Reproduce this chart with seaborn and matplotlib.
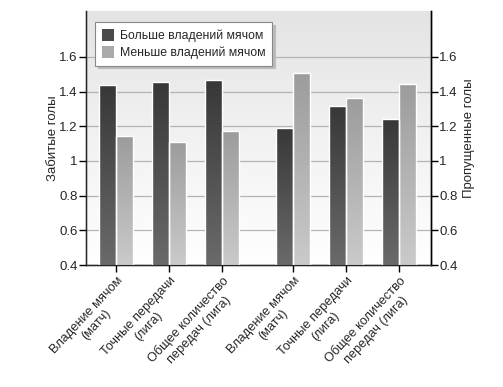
import numpy as np
import pandas as pd
import matplotlib
matplotlib.use("Agg")
import matplotlib.pyplot as plt
import seaborn as sns
from matplotlib.patches import Patch
from matplotlib.colors import LinearSegmentedColormap

categories = ["Владение мячом\n(матч)", "Точные передачи\n(лига)", "Общее количество\nпередач (лига)",
              "Владение мячом\n(матч)", "Точные передачи\n(лига)", "Общее количество\nпередач (лига)"]
positions = [0, 1, 2, 3.34, 4.34, 5.34]
more_possession = [1.436, 1.455, 1.467, 1.189, 1.316, 1.241]
less_possession = [1.143, 1.112, 1.172, 1.510, 1.363, 1.444]
series_names = ["Больше владений мячом", "Меньше владений мячом"]
yticks = [0.4, 0.6, 0.8, 1.0, 1.2, 1.4, 1.6]
yticklabels = ["0.4", "0.6", "0.8", "1", "1.2", "1.4", "1.6"]

df = pd.DataFrame({
    "pos": positions * 2,
    "value": more_possession + less_possession,
    "series": [series_names[0]] * 6 + [series_names[1]] * 6,
})

sns.set_style("white")
plt.rcParams['font.family'] = ['Liberation Sans', 'DejaVu Sans']
plt.rcParams['font.size'] = 9

fig = plt.figure(figsize=(5.03, 3.87), dpi=100)
ax = fig.add_axes([86/503, 1 - 265/387, (431-86)/503, (265-11)/387])

sns.barplot(data=df, x="pos", y="value", hue="series", native_scale=True,
            palette=["#4a4a4a", "#b0b0b0"], width=0.64, gap=0,
            edgecolor="white", linewidth=1.0, ax=ax, legend=False, zorder=3)

ymin, ymax = 0.4, 1.865

# background gradient
bg = np.linspace(0, 1, 256).reshape(-1, 1)
bg_cmap = LinearSegmentedColormap.from_list("bg", ["#ffffff", "#e4e4e4"])
ax.imshow(bg, aspect="auto", cmap=bg_cmap, extent=[0, 1, 0, 1], origin="lower",
          transform=ax.transAxes, zorder=0)

# gradient bars
dark_cmap = LinearSegmentedColormap.from_list("d", ["#6a6a6a", "#383838"])
light_cmap = LinearSegmentedColormap.from_list("l", ["#cacaca", "#9c9c9c"])
for i, p in enumerate(list(ax.patches)):
    x0, y0 = p.get_x(), p.get_y()
    w, h = p.get_width(), p.get_height()
    cmap = dark_cmap if i < 6 else light_cmap
    grad = np.linspace(0, 1, 128).reshape(-1, 1)
    im = ax.imshow(grad, aspect="auto", cmap=cmap, origin="lower",
                   extent=[x0, x0 + w, ymin, y0 + h], zorder=3.5)
    im.set_clip_path(p)
    p.set_facecolor("none")
    p.set_zorder(4)

ax.set_ylim(ymin, ymax)
ax.set_xlim(-0.57, 5.94)

ax.set_yticks(yticks)
ax.set_yticklabels(yticklabels)
for y in yticks:
    ax.axhline(y, color="#b4b4b4", lw=0.9, zorder=1)

ax.set_xticks(positions)
ax.set_xticklabels(categories, rotation=47, ha="right", rotation_mode="anchor",
                   multialignment="center", fontsize=9.2)
ax.tick_params(axis="x", which="both", direction="out", length=5, width=1, color="black", bottom=True, pad=2)
ax.tick_params(axis="y", direction="out", length=5, width=1, color="black", left=True, pad=1, labelsize=9.5)
ax.set_xlabel("")
ax.set_ylabel("Забитые голы", fontsize=9.5, labelpad=0)

ax.spines["top"].set_visible(False)
for s in ["left", "bottom", "right"]:
    ax.spines[s].set_visible(True)
    ax.spines[s].set_color("black")
    ax.spines[s].set_linewidth(1)

ax2 = ax.twinx()
ax2.set_ylim(ymin, ymax)
ax2.set_yticks(yticks)
ax2.set_yticklabels(yticklabels)
ax2.tick_params(axis="y", direction="out", length=5, width=1, color="black", right=True, pad=1, labelsize=9.5)
ax2.set_ylabel("Пропущенные голы", fontsize=9.5, labelpad=4)
ax2.spines["top"].set_visible(False)
ax2.spines["right"].set_color("black")
ax2.spines["right"].set_linewidth(1)
ax2.grid(False)

handles = [Patch(facecolor="#4a4a4a", edgecolor="none"), Patch(facecolor="#aaaaaa", edgecolor="none")]
leg = ax2.legend(handles, series_names, loc="upper left", bbox_to_anchor=(0.026, 0.955),
                 frameon=True, fancybox=False, shadow={"color": "#bbbbbb", "alpha": 1},
                 fontsize=8.8, handlelength=1.0, handleheight=1.1, handletextpad=0.5,
                 borderpad=0.55, labelspacing=0.3, borderaxespad=0)
leg.get_frame().set_edgecolor("#888888")
leg.get_frame().set_linewidth(0.8)

fig.savefig("out.png", dpi=100)
